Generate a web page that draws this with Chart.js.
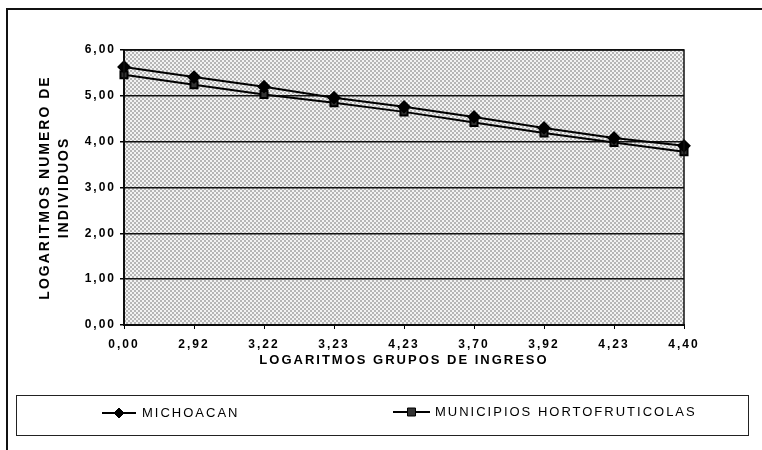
<!DOCTYPE html>
<html lang="es">
<head>
  <meta charset="UTF-8">
  <title>Logaritmos grupos de ingreso</title>
  <script src="https://cdn.jsdelivr.net/npm/chart.js"></script>
  <style>
    body { margin: 0; background: #fff; }
    #wrap { position: relative; width: 762px; height: 450px; }
  </style>
</head>
<body>
  <div id="wrap"><canvas id="chart" width="762" height="450"></canvas></div>

  <script>
    const grupos = ['0,00', '2,92', '3,22', '3,23', '4,23', '3,70', '3,92', '4,23', '4,40'];
    const michoacan = [5.63, 5.41, 5.20, 4.96, 4.76, 4.54, 4.30, 4.08, 3.91];
    const hortofruticolas = [5.46, 5.24, 5.03, 4.85, 4.65, 4.42, 4.19, 3.98, 3.78];
    const yTicks = [0, 1, 2, 3, 4, 5, 6];

    const fmt = v => v.toFixed(2).replace('.', ',');

    // halftone-like fill for the plot area
    function dotPattern(ctx) {
      const c = document.createElement('canvas');
      c.width = 4; c.height = 4;
      const p = c.getContext('2d');
      p.fillStyle = '#f3f3f3';
      p.fillRect(0, 0, 4, 4);
      p.fillStyle = '#b6b6b6';
      p.fillRect(0, 0, 2, 2);
      p.fillRect(2, 2, 2, 2);
      return ctx.createPattern(c, 'repeat');
    }

    const framePlugin = {
      id: 'frame',
      beforeDraw(chart) {
        const ctx = chart.ctx;
        const a = chart.chartArea;
        ctx.save();
        ctx.fillStyle = dotPattern(ctx);
        ctx.fillRect(a.left, a.top, a.right - a.left, a.bottom - a.top);
        // outer frame (top and left edge)
        ctx.strokeStyle = '#111';
        ctx.lineWidth = 2;
        ctx.beginPath();
        ctx.moveTo(7, 450);
        ctx.lineTo(7, 9);
        ctx.lineTo(762, 9);
        ctx.stroke();
        ctx.restore();
        ctx.letterSpacing = '2px';
      },
      afterDraw(chart) {
        const ctx = chart.ctx;
        const a = chart.chartArea;
        ctx.save();
        ctx.strokeStyle = '#111';
        ctx.lineWidth = 1.5;
        ctx.strokeRect(a.left, a.top, a.right - a.left, a.bottom - a.top);

        // legend box
        ctx.lineWidth = 1;
        ctx.strokeStyle = '#222';
        ctx.strokeRect(16.5, 395.5, 732, 40);

        const items = [
          { x1: 102, x2: 136, y: 413, tx: 142 },
          { x1: 393, x2: 430, y: 412, tx: 435 }
        ];
        chart.data.datasets.forEach((ds, i) => {
          const it = items[i];
          ctx.strokeStyle = '#000';
          ctx.lineWidth = 2;
          ctx.beginPath();
          ctx.moveTo(it.x1, it.y);
          ctx.lineTo(it.x2, it.y);
          ctx.stroke();
          const cx = (it.x1 + it.x2) / 2;
          ctx.fillStyle = ds.pointBackgroundColor;
          ctx.strokeStyle = '#000';
          ctx.lineWidth = 1;
          ctx.beginPath();
          if (ds.pointStyle === 'rectRot') {
            ctx.moveTo(cx, it.y - 5);
            ctx.lineTo(cx + 5, it.y);
            ctx.lineTo(cx, it.y + 5);
            ctx.lineTo(cx - 5, it.y);
            ctx.closePath();
          } else {
            ctx.rect(cx - 4, it.y - 4, 8, 8);
          }
          ctx.fill();
          ctx.stroke();
          ctx.fillStyle = '#000';
          ctx.font = '500 13px "Liberation Sans", Arial, sans-serif';
          ctx.letterSpacing = '2px';
          ctx.textBaseline = 'middle';
          ctx.textAlign = 'left';
          ctx.fillText(ds.label, it.tx, it.y);
        });
        ctx.restore();
        ctx.letterSpacing = '0px';
      }
    };

    new Chart(document.getElementById('chart'), {
      type: 'line',
      data: {
        labels: grupos,
        datasets: [
          {
            label: 'MICHOACAN',
            data: michoacan,
            borderColor: '#000',
            borderWidth: 2,
            pointStyle: 'rectRot',
            pointRadius: 5.5,
            pointBackgroundColor: '#000',
            pointBorderColor: '#000',
            tension: 0
          },
          {
            label: 'MUNICIPIOS HORTOFRUTICOLAS',
            data: hortofruticolas,
            borderColor: '#000',
            borderWidth: 2,
            pointStyle: 'rect',
            pointRadius: 5,
            pointBackgroundColor: '#333',
            pointBorderColor: '#000',
            tension: 0
          }
        ]
      },
      options: {
        responsive: false,
        animation: false,
        layout: { padding: { top: 50, right: 78, bottom: 82, left: 36 } },
        plugins: {
          legend: { display: false },
          tooltip: { enabled: false }
        },
        scales: {
          x: {
            offset: false,
            afterFit(scale) { scale.height = 43; },
            grid: { drawOnChartArea: false, tickLength: 4, color: '#000' },
            border: { color: '#000', width: 2 },
            ticks: {
              color: '#000',
              padding: 8,
              maxRotation: 0,
              font: { family: '"Liberation Sans", Arial, sans-serif', size: 12, weight: 'bold' }
            },
            title: {
              display: true,
              text: 'LOGARITMOS GRUPOS DE INGRESO',
              color: '#000',
              padding: 0,
              font: { family: '"Liberation Sans", Arial, sans-serif', size: 13, weight: 'bold' }
            }
          },
          y: {
            min: 0,
            max: 6,
            afterFit(scale) { scale.width = 88; },
            afterBuildTicks(scale) { scale.ticks = yTicks.map(v => ({ value: v })); },
            grid: { color: '#111', lineWidth: 1.5, tickLength: 4, tickColor: '#000' },
            border: { color: '#000', width: 2 },
            ticks: {
              color: '#000',
              padding: 4,
              callback: v => fmt(v),
              font: { family: '"Liberation Sans", Arial, sans-serif', size: 12, weight: 'bold' }
            },
            title: {
              display: true,
              text: ['LOGARITMOS NUMERO DE', 'INDIVIDUOS'],
              color: '#000',
              padding: 0,
              font: { family: '"Liberation Sans", Arial, sans-serif', size: 14, weight: 'bold', lineHeight: 1.35 }
            }
          }
        }
      },
      plugins: [framePlugin]
    });
  </script>
</body>
</html>
